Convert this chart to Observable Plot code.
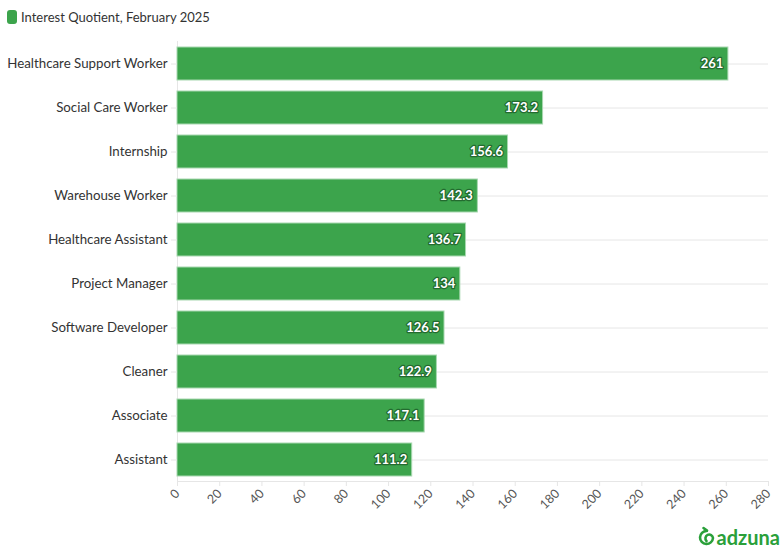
<!DOCTYPE html>
<html>
<head>
<meta charset="utf-8">
<script src="https://cdn.jsdelivr.net/npm/d3@7"></script>
<script src="https://cdn.jsdelivr.net/npm/@observablehq/plot@0.6"></script>
<style>
  body { margin: 0; background: #fff; font-family: Lato, "Open Sans", sans-serif; }
  #wrap { position: relative; width: 783px; height: 555px; }
  #legend { height: 34px; display: flex; align-items: center; padding-left: 7px; font-size: 13px; color: #333; }
  #legend .sw { width: 10px; height: 14px; background: #3ca44c; border-radius: 3px; margin-right: 4px; }
  #logo { position: absolute; right: 3px; top: 525px; display: flex; align-items: center; color: #2aa03a; font-weight: 700; font-size: 20px; font-family: Lato, sans-serif; white-space: nowrap; }
  #logo svg { margin-right: 2px; }
</style>
</head>
<body>
<div id="wrap">
  <div id="legend"><span class="sw"></span><span>Interest Quotient, February 2025</span></div>
  <div id="chart"></div>
  <div id="logo"><svg width="17" height="22" viewBox="0 0 17 22"><path d="M8.5 5 A6.5 6.5 0 1 0 15 12 A3.8 3.8 0 1 0 8.5 15" fill="none" stroke="#2aa03a" stroke-width="2.6" stroke-linecap="round"/><path d="M5.5 2 L9 4.6" stroke="#2aa03a" stroke-width="2.6" stroke-linecap="round"/></svg><span>adzuna</span></div>
</div>
<script>
const categories = ["Healthcare Support Worker", "Social Care Worker", "Internship", "Warehouse Worker", "Healthcare Assistant", "Project Manager", "Software Developer", "Cleaner", "Associate", "Assistant"];
const values = [261, 173.2, 156.6, 142.3, 136.7, 134, 126.5, 122.9, 117.1, 111.2];
const xTicks = d3.range(0, 281, 20);

const data = categories.map((c, i) => ({category: c, value: values[i]}));

const chart = Plot.plot({
  width: 783,
  height: 500,
  marginTop: 7,
  marginBottom: 53,
  marginLeft: 177,
  marginRight: 15,
  style: {fontFamily: "Lato, 'Open Sans', sans-serif", fontSize: "13px", background: "transparent"},
  x: {domain: [0, 280], ticks: xTicks},
  y: {domain: categories, paddingInner: 0.25, paddingOuter: 0.125},
  marks: [
    Plot.gridY({stroke: "#e6e6e6", strokeOpacity: 1}),
    Plot.ruleX([0], {stroke: "#e6e6e6"}),
    Plot.frame({anchor: "bottom", stroke: "#e6e6e6"}),
    Plot.barX(data, {y: "category", x: "value", fill: "#3ca44c", stroke: "#a8d8b0", strokeWidth: 1}),
    Plot.text(data, {y: "category", x: "value", text: d => String(d.value), textAnchor: "end", dx: -5, fill: "#fff", stroke: "#236b2f", strokeWidth: 2.5, fontWeight: "bold", fontSize: 13}),
    Plot.axisY({label: null, tickSize: 6, tickPadding: 4, stroke: "#e6e6e6", fill: "#333", fontSize: 13.3}),
    Plot.axisX({ticks: xTicks, label: null, tickSize: 5, tickRotate: -45, tickPadding: 5, stroke: "#e6e6e6", fill: "#555", fontSize: 12.5})
  ]
});
document.getElementById("chart").appendChild(chart);
</script>
</body>
</html>
